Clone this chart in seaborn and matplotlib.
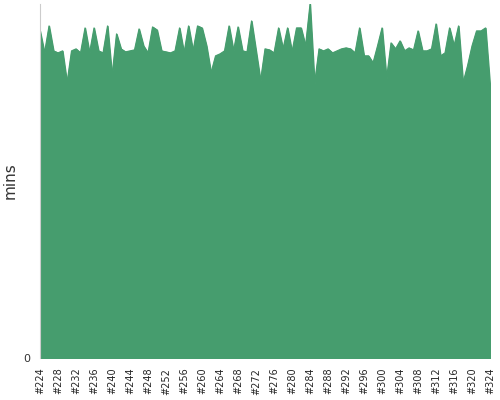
import numpy as np
import pandas as pd
import seaborn as sns
import matplotlib
matplotlib.use("Agg")
import matplotlib.pyplot as plt

# top edge pixel rows (baseline at row 358)
tops = [30, 52, 25, 50, 52, 50, 82, 50, 48, 52,
        27, 52, 27, 50, 52, 25, 75, 33, 48, 51,
        50, 49, 28, 45, 52, 26, 29, 50, 51, 52,
        50, 27, 52, 25, 50, 25, 27, 45, 72, 55,
        53, 50, 25, 50, 26, 50, 51, 20, 50, 80,
        48, 49, 52, 27, 48, 27, 51, 27, 27, 45,
        3, 83, 48, 50, 48, 52, 50, 48, 47, 48,
        52, 27, 55, 55, 62, 45, 27, 78, 42, 48,
        40, 50, 47, 49, 30, 50, 50, 48, 23, 55,
        52, 27, 45, 25, 82, 65, 45, 30, 30, 27, 85]
mins = [358 - t for t in tops]
builds = [f"#{224 + i}" for i in range(len(mins))]

df = pd.DataFrame({"build": builds, "mins": mins, "pos": range(len(mins))})

sns.set_style("white")
plt.rcParams["font.family"] = ["DejaVu Sans"]
fig, ax = plt.subplots(figsize=(5, 4), dpi=100)
sns.lineplot(data=df, x="pos", y="mins", color="#469d6e", linewidth=0.8, ax=ax)
ax.fill_between(df["pos"], df["mins"], color="#469d6e")
ax.set_xlim(0, len(mins) - 1)
ax.set_ylim(0, 355)
ax.set_yticks([0])
ax.set_xticks(df["pos"][::4])
ax.set_xticklabels(df["build"][::4], rotation=90, fontsize=7)
ax.tick_params(axis="y", labelsize=8, colors="#333333")
ax.set_xlabel("")
ax.set_ylabel("mins", fontsize=11, color="#333333")
for s in ["top", "right", "bottom"]:
    ax.spines[s].set_visible(False)
ax.spines["left"].set_color("#cccccc")
fig.subplots_adjust(left=0.08, right=0.98, top=0.99, bottom=0.105)
fig.savefig("out.png")
